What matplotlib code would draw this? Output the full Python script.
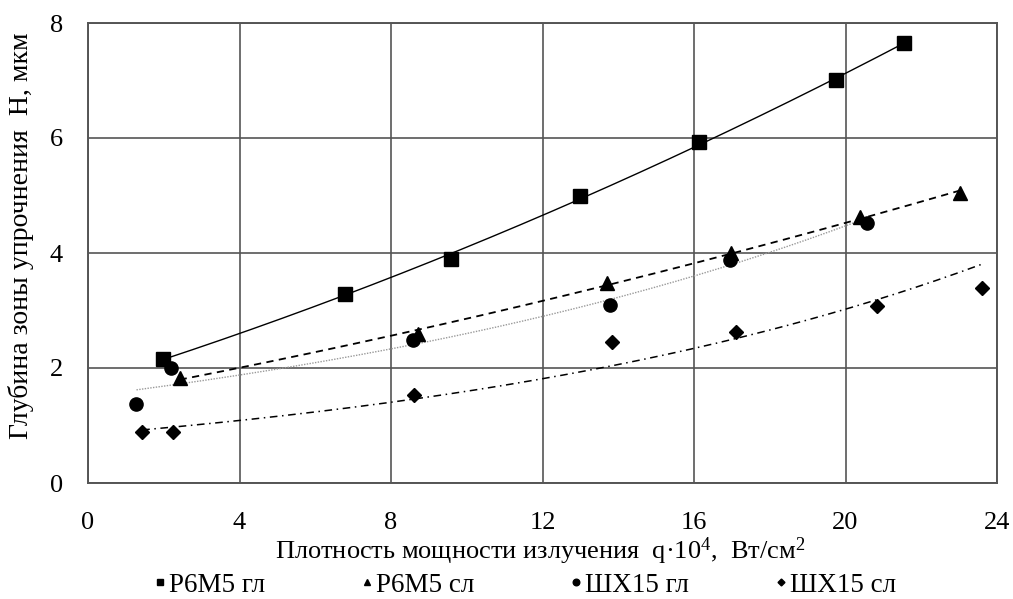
import numpy as np
import matplotlib
matplotlib.use("Agg")
import matplotlib.pyplot as plt

plt.rcParams['font.family'] = ['Liberation Serif', 'DejaVu Serif']
plt.rcParams['mathtext.fontset'] = 'custom'
plt.rcParams['mathtext.rm'] = 'Liberation Serif'
plt.rcParams['mathtext.it'] = 'Liberation Serif:italic'

# Data
x_r6m5_gl = [1.97, 6.78, 9.58, 13.0, 16.14, 19.76, 21.55]
y_r6m5_gl = [2.16, 3.28, 3.89, 5.0, 5.93, 7.01, 7.65]

x_r6m5_sl = [2.42, 8.70, 13.70, 16.99, 20.39, 23.01]
y_r6m5_sl = [1.82, 2.60, 3.47, 4.00, 4.63, 5.05]

x_shx_gl = [1.28, 2.20, 8.59, 13.79, 16.96, 20.56]
y_shx_gl = [1.37, 2.00, 2.49, 3.10, 3.88, 4.52]

x_shx_sl = [1.43, 2.24, 8.62, 13.83, 17.11, 20.83, 23.61]
y_shx_sl = [0.89, 0.89, 1.53, 2.46, 2.62, 3.07, 3.40]

labels = ['Р6М5 гл', 'Р6М5 сл', 'ШХ15 гл', 'ШХ15 сл']
x_ticks = [0, 4, 8, 12, 16, 20, 24]
y_ticks = [0, 2, 4, 6, 8]

W, H = 1013, 599
fig = plt.figure(figsize=(W/100, H/100), dpi=100)
ax = fig.add_axes([88/W, 1-483/H, (997-88)/W, (483-23)/H])

gridc = '#555555'
ax.set_xlim(0, 24)
ax.set_ylim(0, 8)
ax.set_xticks(x_ticks)
ax.set_yticks(y_ticks)
ax.grid(True, color=gridc, linewidth=1.2)
ax.set_axisbelow(True)
for s in ax.spines.values():
    s.set_color(gridc)
    s.set_linewidth(1.4)
ax.tick_params(length=0, labelsize=19)
ax.tick_params(axis='y', pad=18)
ax.tick_params(axis='x', pad=21)


def poly_trend(x, y, deg=2):
    x = np.asarray(x); y = np.asarray(y)
    c = np.polyfit(x, y, deg)
    xs = np.linspace(x.min(), x.max(), 200)
    return xs, np.polyval(c, xs)


def exp_trend(x, y):
    x = np.asarray(x); y = np.asarray(y)
    b, a = np.polyfit(x, np.log(y), 1)
    xs = np.linspace(x.min(), x.max(), 200)
    return xs, np.exp(a) * np.exp(b * xs)

xs, ys = poly_trend(x_r6m5_gl, y_r6m5_gl)
ax.plot(xs, ys, color='black', linewidth=1.0, linestyle='-')
xs, ys = poly_trend(x_r6m5_sl, y_r6m5_sl)
ax.plot(xs, ys, color='black', linewidth=1.3, linestyle=(0, (4, 3)))
xs, ys = exp_trend(x_shx_gl, y_shx_gl)
ax.plot(xs, ys, color='#999999', linewidth=1.0, linestyle=(0, (1, 1)))
xs, ys = exp_trend(x_shx_sl, y_shx_sl)
ax.plot(xs, ys, color='black', linewidth=1.1, linestyle=(0, (5, 3, 1, 3)))

h1, = ax.plot(x_r6m5_gl, y_r6m5_gl, linestyle='none', marker='s', markersize=9.5, color='black', label=labels[0])
h2, = ax.plot(x_r6m5_sl, y_r6m5_sl, linestyle='none', marker='^', markersize=10, color='black', label=labels[1])
h3, = ax.plot(x_shx_gl, y_shx_gl, linestyle='none', marker='o', markersize=9.5, color='black', label=labels[2])
h4, = ax.plot(x_shx_sl, y_shx_sl, linestyle='none', marker='D', markersize=7, color='black', label=labels[3])

fig.text(540/W, 1-551/H, 'Плотность мощности излучения  q·10$^4$,  Вт/см$^2$',
         fontsize=19, ha='center', va='center', family='Liberation Serif')
fig.text(21/W, 1-236/H, 'Глубина зоны упрочнения  H, мкм', fontsize=20,
         rotation=90, ha='center', va='center', family='Liberation Serif')

leg_x = [160, 367, 576, 781]
for h, lx in zip([h1, h2, h3, h4], leg_x):
    lg = fig.legend(handles=[h], loc='center left', bbox_to_anchor=((lx-5.5)/W, 1-585/H),
                    frameon=False, prop={'family': 'Liberation Serif', 'size': 19.5},
                    handlelength=0.4, handletextpad=0.15,
                    borderpad=0, borderaxespad=0, markerscale=0.5)

fig.savefig('out.png', dpi=100)
